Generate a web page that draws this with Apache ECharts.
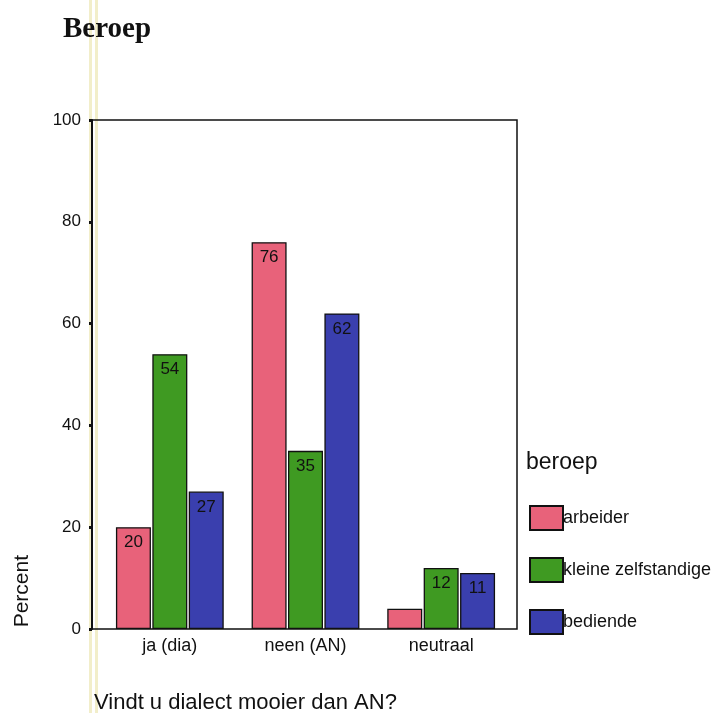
<!DOCTYPE html>
<html lang="nl">
<head>
    <meta charset="utf-8">
    <title>Beroep</title>
    <style>
        html, body {margin: 0; padding: 0; background: #fff;}
        #container {width: 716px; height: 713px;}
    </style>
</head>
<body>
<div id="container"></div>
<script src="https://cdn.jsdelivr.net/npm/echarts@6/dist/echarts.min.js"></script>
<script>
// antwoorden op "Vindt u dialect mooier dan AN?"
var categories = ['ja (dia)', 'neen (AN)', 'neutraal'];
var arbeider = [20, 76, 4];
var kleineZelfstandige = [54, 35, 12];
var bediende = [27, 62, 11];
var yTicks = [0, 20, 40, 60, 80, 100];

var font = 'Arial, "Liberation Sans", sans-serif';

function barSeries(name, data, color) {
    return {
        name: name,
        type: 'bar',
        data: data,
        barWidth: 35,
        barGap: '4%',
        itemStyle: {color: color, borderColor: '#111', borderWidth: 1.3},
        label: {
            show: true,
            position: 'insideTop',
            distance: 7,
            color: '#111',
            fontFamily: font,
            fontSize: 17,
            formatter: function (p) { return p.value < 5 ? '' : p.value; }
        }
    };
}

var myChart = echarts.init(document.getElementById('container'));
var options = {
    backgroundColor: '#fff',
    animation: false,
    title: [
        {
            text: 'Beroep', left: 58, top: 10,
            textStyle: {fontFamily: '"Liberation Serif", "DejaVu Serif", serif', fontWeight: 'bold', fontSize: 29, color: '#111'}
        },
        {
            text: 'beroep', left: 521, top: 446,
            textStyle: {fontFamily: font, fontWeight: 'normal', fontSize: 23, color: '#111'}
        },
        {
            text: 'Vindt u dialect mooier dan AN?', left: 89, top: 687,
            textStyle: {fontFamily: font, fontWeight: 'normal', fontSize: 22, color: '#111'}
        }
    ],
    legend: {
        orient: 'vertical',
        left: 524,
        top: 500,
        itemWidth: 33,
        itemHeight: 24,
        itemGap: 26,
        icon: 'rect',
        textStyle: {fontFamily: font, fontSize: 18, color: '#111', padding: [0, 0, 0, -5]},
        data: ['arbeider', 'kleine zelfstandige', 'bediende']
    },
    graphic: [
        {
            type: 'rect', silent: true, z: -1,
            shape: {x: 89, y: 0, width: 3, height: 713},
            style: {fill: 'rgba(230, 222, 150, 0.5)'}
        },
        {
            type: 'rect', silent: true, z: -1,
            shape: {x: 95, y: 0, width: 3, height: 713},
            style: {fill: 'rgba(230, 222, 150, 0.5)'}
        },
        {
            type: 'text', rotation: Math.PI / 2, left: 12, top: 555,
            style: {text: 'Percent', fontFamily: font, fontSize: 21, fill: '#111'}
        }
    ],
    grid: [
        {left: 102, right: 207, top: 120, bottom: 84},
        {left: 92, right: 199, top: 120, bottom: 84, show: true, borderColor: '#111', borderWidth: 1.5, backgroundColor: 'transparent'}
    ],
    xAxis: [
        {
            type: 'category', gridIndex: 0, data: categories,
            axisLine: {show: false},
            axisTick: {alignWithLabel: true, length: 4, lineStyle: {color: '#111', width: 3}},
            axisLabel: {fontFamily: font, fontSize: 18, color: '#111', margin: 8}
        },
        {type: 'value', gridIndex: 1, show: false}
    ],
    yAxis: [
        {
            type: 'value', gridIndex: 0, min: 0, max: 100, interval: 20,
            offset: 10,
            axisLine: {show: true, lineStyle: {color: '#111', width: 2}},
            axisTick: {show: true, length: 3, lineStyle: {color: '#111', width: 3}},
            splitLine: {show: false},
            axisLabel: {fontFamily: font, fontSize: 17, color: '#111', margin: 11,
                formatter: function (v) { return yTicks.indexOf(v) >= 0 ? v : ''; }}
        },
        {type: 'value', gridIndex: 1, show: false}
    ],
    series: [
        barSeries('arbeider', arbeider, '#e8627a'),
        barSeries('kleine zelfstandige', kleineZelfstandige, '#3f9a22'),
        barSeries('bediende', bediende, '#3a3fae')
    ]
};
myChart.setOption(options);
</script>
</body>
</html>
